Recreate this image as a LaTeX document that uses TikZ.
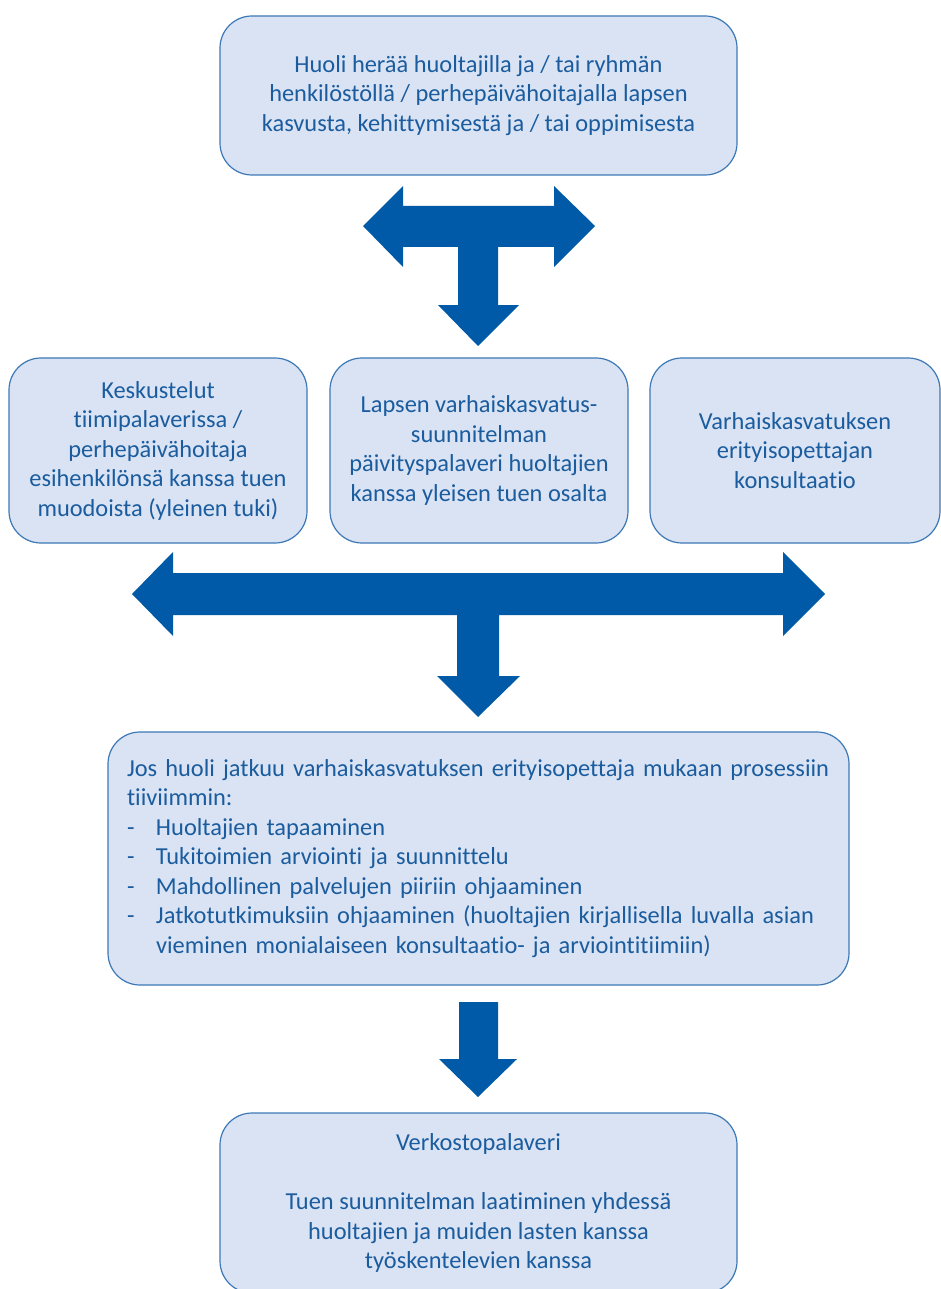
\documentclass[tikz,border=0pt]{standalone}
\usepackage{fontspec}
\setmainfont[Ligatures={NoCommon}]{Carlito}
\definecolor{arrowblue}{HTML}{005AA7}
\definecolor{txtblue}{HTML}{1A5C9E}
\definecolor{boxfill}{HTML}{DAE3F3}
\definecolor{boxline}{HTML}{3C78B5}
\begin{document}
\begin{tikzpicture}[x=1pt,y=-1pt,
  box/.style={draw=boxline, fill=boxfill, line width=1.2pt, rounded corners=32pt,
    text=txtblue, font=\fontsize{24.4}{29.5}\selectfont, inner sep=0pt, align=center},
  blockarrow/.style={fill=arrowblue, draw=none}]
\useasboundingbox (0,0) rectangle (941,1289);

\node[box, minimum width=517pt, minimum height=159pt] (top) at (478.5,95.5)
  {Huoli herää huoltajilla ja / tai ryhmän\\henkilöstöllä / perhepäivähoitajalla lapsen\\kasvusta, kehittymisestä ja / tai oppimisesta};

\node[box, minimum width=298pt, minimum height=185pt] (left) at (158,450.5)
  {Keskustelut\\tiimipalaverissa /\\perhepäivähoitaja\\esihenkilönsä kanssa tuen\\muodoista (yleinen tuki)};
\node[box, minimum width=298pt, minimum height=185pt] (mid) at (479,450.5)
  {Lapsen varhaiskasvatus-\\suunnitelman\\päivityspalaveri huoltajien\\kanssa yleisen tuen osalta};
\node[box, minimum width=290pt, minimum height=185pt] (right) at (795,450.5)
  {Varhaiskasvatuksen\\erityisopettajan\\konsultaatio};

\node[box, minimum width=741pt, minimum height=253pt, text width=703pt, align=left] (big) at (478.5,858.5)
  {Jos huoli jatkuu varhaiskasvatuksen erityisopettaja mukaan prosessiin\\
   tiiviimmin:\\
   \makebox[29pt][l]{-}Huoltajien tapaaminen\\
   \makebox[29pt][l]{-}Tukitoimien arviointi ja suunnittelu\\
   \makebox[29pt][l]{-}Mahdollinen palvelujen piiriin ohjaaminen\\
   \makebox[29pt][l]{-}Jatkotutkimuksiin ohjaaminen (huoltajien kirjallisella luvalla asian\\
   \hspace*{29pt}vieminen monialaiseen konsultaatio- ja arviointitiimiin)};

\node[box, minimum width=517pt, minimum height=180pt] (bottom) at (478.5,1203)
  {Verkostopalaveri\\[29.5pt]Tuen suunnitelman laatiminen yhdessä\\huoltajien ja muiden lasten kanssa\\työskentelevien kanssa};

% T-shaped arrow between top box and the three boxes
\fill[blockarrow] (363,226) -- (403,186) -- (403,206) -- (554,206) -- (554,186) -- (595,226)
  -- (554,267) -- (554,247) -- (498,247) -- (498,305) -- (519,305) -- (478,346)
  -- (438,305) -- (458,305) -- (458,247) -- (403,247) -- (403,267) -- cycle;

% wide T-shaped arrow below the three boxes
\fill[blockarrow] (132,594) -- (173,552) -- (173,573) -- (783,573) -- (783,552) -- (825,594)
  -- (783,636) -- (783,615) -- (499,615) -- (499,676) -- (520,676) -- (478,717)
  -- (437,676) -- (457,676) -- (457,615) -- (173,615) -- (173,636) -- cycle;

% down arrow to the bottom box
\fill[blockarrow] (459,1002) -- (498,1002) -- (498,1059) -- (517,1059) -- (478,1097)
  -- (439,1059) -- (459,1059) -- cycle;
\end{tikzpicture}
\end{document}
